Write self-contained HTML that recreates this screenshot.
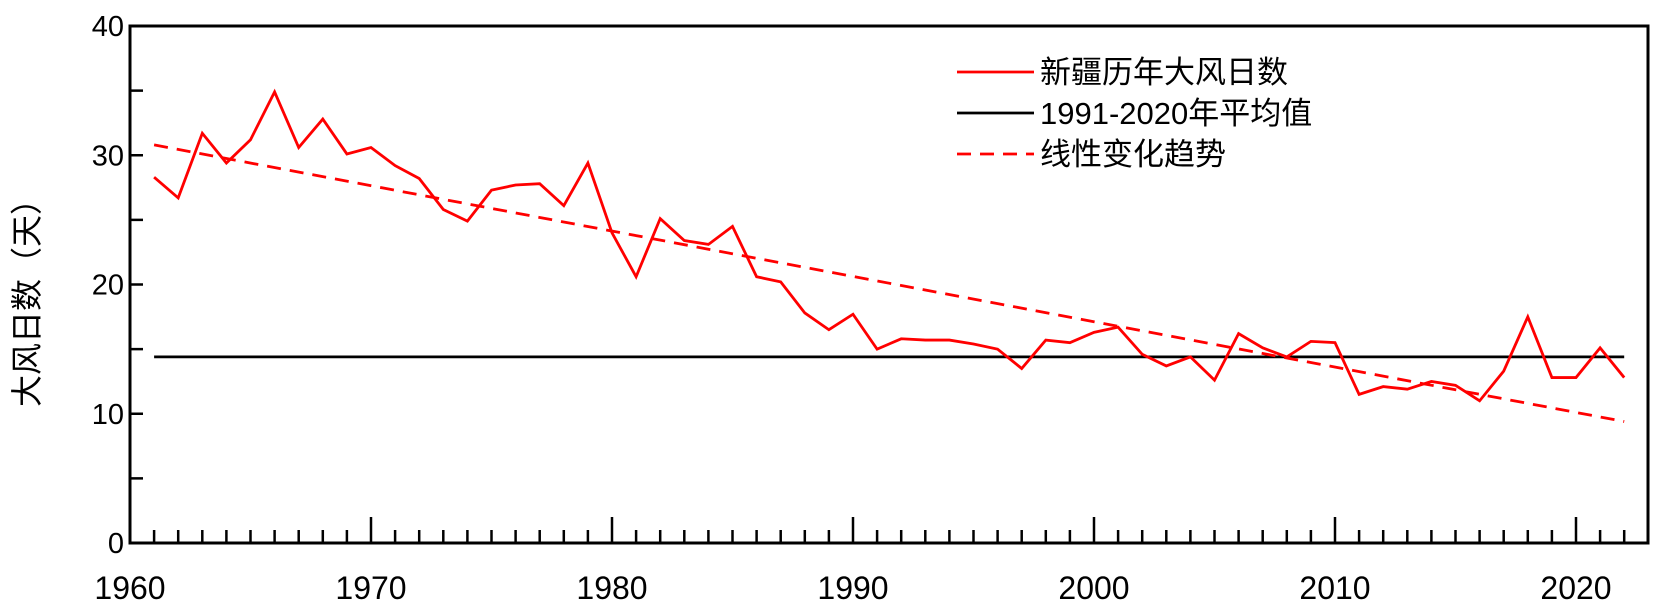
<!DOCTYPE html><html><head><meta charset="utf-8"><style>body{margin:0;background:#fff}svg text{font-family:"Liberation Sans","Noto Sans CJK SC",sans-serif}</style></head><body>
<svg id="s" width="1653" height="609" xmlns="http://www.w3.org/2000/svg"></svg>
<script>
const d=[28.3,26.7,31.7,29.4,31.2,34.9,30.6,32.8,30.1,30.6,29.2,28.2,25.8,24.9,27.3,27.7,27.8,26.1,29.4,24.0,20.6,25.1,23.4,23.1,24.5,20.6,20.2,17.8,16.5,17.7,15.0,15.8,15.7,15.7,15.4,15.0,13.5,15.7,15.5,16.3,16.7,14.6,13.7,14.4,12.6,16.2,15.1,14.4,15.6,15.5,11.5,12.1,11.9,12.5,12.2,11.0,13.3,17.5,12.8,12.8,15.1,12.8];
const X=y=>130+(y-1960)*24.1, Y=v=>543-v*12.925;
let h='';
h+=`<rect x="130" y="26" width="1518" height="517" fill="none" stroke="#000" stroke-width="3"/>`;
for(let y=1961;y<2023;y++){const m=y%10==0;h+=`<line x1="${X(y)}" y1="543" x2="${X(y)}" y2="${m?517:530}" stroke="#000" stroke-width="2.5"/>`;}
for(let y=1960;y<=2020;y+=10)h+=`<text x="${X(y)}" y="599" font-size="32" text-anchor="middle">${y}</text>`;
for(let v=5;v<40;v+=5)h+=`<line x1="130" y1="${Y(v)}" x2="143" y2="${Y(v)}" stroke="#000" stroke-width="2.5"/>`;
for(let v=0;v<=40;v+=10)h+=`<text x="124" y="${Y(v)+10}" font-size="29" text-anchor="end">${v}</text>`;
h+=`<text transform="translate(38,295) rotate(-90)" font-size="32" text-anchor="middle">大风日数（天）</text>`;
h+=`<line x1="${X(1961)}" y1="${Y(14.4)}" x2="${X(2022)}" y2="${Y(14.4)}" stroke="#000" stroke-width="2.8"/>`;
h+=`<line x1="${X(1961)}" y1="${Y(30.8)}" x2="${X(2022)}" y2="${Y(9.4)}" stroke="#f00" stroke-width="2.8" stroke-dasharray="14,9"/>`;
h+=`<polyline fill="none" stroke="#f00" stroke-width="2.8" points="${d.map((v,i)=>X(1961+i)+','+Y(v)).join(' ')}"/>`;
const L=[["新疆历年大风日数","#f00",""],["1991-2020年平均值","#000",""],["线性变化趋势","#f00","14,9"]];
L.forEach((l,i)=>{const y=72+i*41;h+=`<line x1="957" y1="${y}" x2="1034" y2="${y}" stroke="${l[1]}" stroke-width="2.8" ${l[2]?'stroke-dasharray="'+l[2]+'"':''}/><text x="1040" y="${y+11}" font-size="31">${l[0]}</text>`;});
document.getElementById('s').innerHTML=h;
</script></body></html>
